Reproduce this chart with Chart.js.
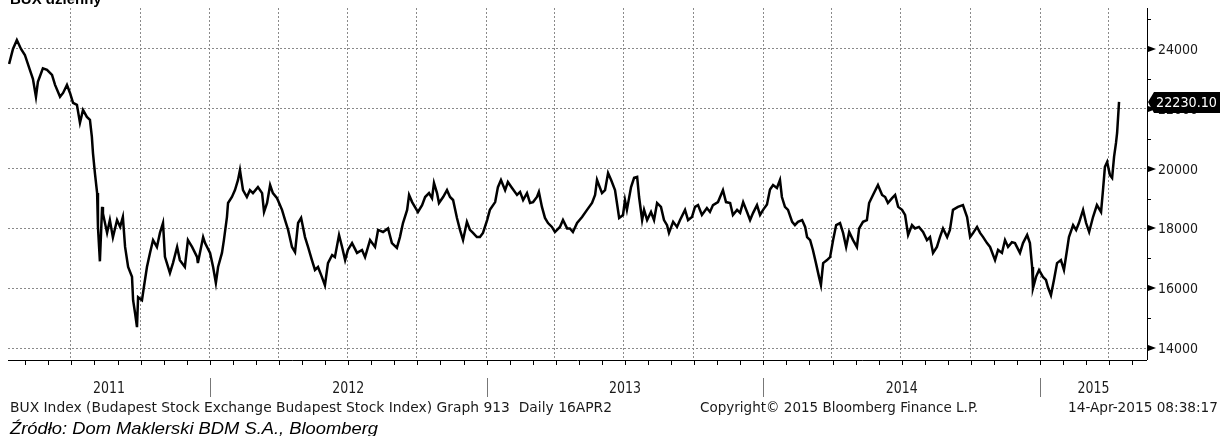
<!DOCTYPE html>
<html>
<head>
<meta charset="utf-8">
<script src="https://cdn.jsdelivr.net/npm/chart.js@4.4.1/dist/chart.umd.min.js"></script>
<style>
  html, body { margin: 0; padding: 0; background: #fff; }
  #wrap { width: 1223px; height: 436px; }
</style>
</head>
<body>
<div id="wrap"><canvas id="buxChart" width="1223" height="436"></canvas></div>
<script>
// time as decimal years, index values
const dates = [
  2011.275, 2011.289, 2011.303, 2011.318, 2011.332, 2011.350, 2011.361, 2011.372, 2011.379, 2011.397,
  2011.412, 2011.430, 2011.441, 2011.459, 2011.470, 2011.484, 2011.495, 2011.506, 2011.520, 2011.531,
  2011.542, 2011.556, 2011.567, 2011.574, 2011.578, 2011.585, 2011.593, 2011.596, 2011.603, 2011.611,
  2011.614, 2011.629, 2011.639, 2011.650, 2011.665, 2011.676, 2011.686, 2011.694, 2011.705, 2011.719,
  2011.723, 2011.730, 2011.737, 2011.741, 2011.755, 2011.762, 2011.773, 2011.784, 2011.795, 2011.809,
  2011.820, 2011.831, 2011.838, 2011.856, 2011.867, 2011.882, 2011.892, 2011.910, 2011.921, 2011.936,
  2011.954, 2011.957, 2011.976, 2011.983, 2012.001, 2012.012, 2012.022, 2012.030, 2012.044, 2012.051,
  2012.062, 2012.066, 2012.080, 2012.091, 2012.102, 2012.109, 2012.120, 2012.134, 2012.145, 2012.156,
  2012.174, 2012.189, 2012.196, 2012.207, 2012.218, 2012.228, 2012.243, 2012.261, 2012.272, 2012.283,
  2012.297, 2012.308, 2012.319, 2012.330, 2012.344, 2012.355, 2012.369, 2012.380, 2012.391, 2012.405,
  2012.416, 2012.427, 2012.442, 2012.452, 2012.467, 2012.478, 2012.489, 2012.499, 2012.514, 2012.532,
  2012.550, 2012.561, 2012.579, 2012.597, 2012.608, 2012.626, 2012.644, 2012.658, 2012.676, 2012.687,
  2012.698, 2012.713, 2012.720, 2012.731, 2012.741, 2012.752, 2012.767, 2012.778, 2012.792, 2012.803,
  2012.810, 2012.821, 2012.828, 2012.843, 2012.857, 2012.868, 2012.879, 2012.893, 2012.904, 2012.915,
  2012.929, 2012.940, 2012.951, 2012.965, 2012.976, 2012.987, 2013.002, 2013.012, 2013.031, 2013.041,
  2013.052, 2013.067, 2013.077, 2013.092, 2013.110, 2013.121, 2013.132, 2013.146, 2013.157, 2013.168,
  2013.182, 2013.189, 2013.200, 2013.211, 2013.222, 2013.236, 2013.247, 2013.265, 2013.276, 2013.291,
  2013.301, 2013.312, 2013.327, 2013.345, 2013.363, 2013.381, 2013.392, 2013.399, 2013.417, 2013.428,
  2013.439, 2013.450, 2013.464, 2013.471, 2013.479, 2013.493, 2013.500, 2013.507, 2013.522, 2013.533,
  2013.544, 2013.551, 2013.562, 2013.569, 2013.580, 2013.594, 2013.605, 2013.616, 2013.630, 2013.641,
  2013.652, 2013.659, 2013.674, 2013.688, 2013.699, 2013.717, 2013.728, 2013.742, 2013.753, 2013.764,
  2013.778, 2013.796, 2013.807, 2013.818, 2013.836, 2013.854, 2013.865, 2013.880, 2013.890, 2013.905,
  2013.916, 2013.927, 2013.941, 2013.952, 2013.963, 2013.977, 2013.988, 2013.999, 2014.013, 2014.024,
  2014.035, 2014.049, 2014.060, 2014.067, 2014.078, 2014.089, 2014.104, 2014.114, 2014.125, 2014.140,
  2014.151, 2014.158, 2014.169, 2014.179, 2014.190, 2014.201, 2014.208, 2014.216, 2014.230, 2014.241,
  2014.252, 2014.263, 2014.277, 2014.288, 2014.299, 2014.310, 2014.324, 2014.338, 2014.346, 2014.360,
  2014.374, 2014.382, 2014.396, 2014.414, 2014.429, 2014.440, 2014.450, 2014.465, 2014.476, 2014.487,
  2014.501, 2014.512, 2014.523, 2014.537, 2014.548, 2014.562, 2014.577, 2014.591, 2014.602, 2014.613,
  2014.627, 2014.638, 2014.649, 2014.664, 2014.674, 2014.685, 2014.703, 2014.721, 2014.736, 2014.747,
  2014.758, 2014.772, 2014.783, 2014.794, 2014.808, 2014.819, 2014.837, 2014.848, 2014.862, 2014.873,
  2014.884, 2014.898, 2014.909, 2014.927, 2014.938, 2014.953, 2014.963, 2014.971, 2014.974, 2014.985,
  2014.996, 2015.010, 2015.021, 2015.028, 2015.039, 2015.050, 2015.061, 2015.075, 2015.086, 2015.097,
  2015.104, 2015.119, 2015.130, 2015.140, 2015.155, 2015.166, 2015.177, 2015.191, 2015.205, 2015.220,
  2015.227, 2015.234, 2015.242, 2015.252, 2015.260, 2015.267, 2015.274, 2015.278, 2015.285
]

const closes = [
  23500, 24000, 24300, 24000, 23800, 23300, 23000, 22400, 22900, 23350,
  23300, 23130, 22800, 22400, 22530, 22800, 22530, 22200, 22130, 21530,
  21960, 21730, 21630, 21060, 20520, 19850, 19180, 18050, 16900, 18720,
  18500, 17850, 18280, 17700, 18280, 18050, 18380, 17380, 16710, 16380,
  15600, 15170, 14700, 15700, 15600, 16040, 16710, 17180, 17610, 17380,
  17850, 18180, 17050, 16510, 16840, 17380, 16940, 16710, 17610, 17380,
  17050, 16840, 17710, 17510, 17180, 16710, 16180, 16710, 17180, 17610,
  18380, 18850, 19050, 19280, 19620, 19950, 19280, 19050, 19280, 19180,
  19380, 19180, 18550, 18850, 19450, 19180, 19010, 18620, 18280, 17950,
  17380, 17210, 18180, 18350, 17710, 17380, 16940, 16610, 16710, 16380,
  16100, 16840, 17110, 17040, 17780, 17380, 16940, 17280, 17510, 17180,
  17280, 17040, 17610, 17380, 17950, 17880, 18000, 17510, 17350, 17710,
  18180, 18620, 19120, 18880, 18720, 18550, 18780, 19050, 19180, 19010,
  19520, 19180, 18850, 19050, 19280, 19050, 18950, 18350, 17950, 17610,
  18220, 17950, 17850, 17710, 17710, 17850, 18280, 18620, 18880, 19380,
  19620, 19280, 19550, 19350, 19120, 19220, 18950, 19180, 18850, 18880,
  19050, 19220, 18720, 18350, 18180, 18050, 17880, 18050, 18280, 18000,
  18000, 17880, 18180, 18380, 18620, 18850, 19120, 19620, 19180, 19280,
  19850, 19620, 19280, 18850, 18350, 18450, 18950, 18620, 19380, 19690,
  19720, 19050, 18280, 18620, 18280, 18550, 18280, 18850, 18720, 18280,
  18110, 17850, 18220, 18050, 18280, 18620, 18280, 18380, 18720, 18780,
  18450, 18680, 18550, 18780, 18880, 19280, 18880, 18850, 18450, 18620,
  18520, 18880, 18550, 18280, 18520, 18780, 18450, 18620, 18800, 19300,
  19450, 19350, 19620, 19050, 18720, 18620, 18220, 18110, 18220, 18280,
  18050, 17710, 17610, 17280, 16840, 16380, 16110, 16840, 16940, 17040,
  17610, 18110, 18180, 17850, 17380, 17880, 17610, 17380, 18000, 18220,
  18280, 18850, 19120, 19450, 19120, 19050, 18850, 19010, 19120, 18720,
  18620, 18450, 17780, 18110, 18000, 18050, 17880, 17610, 17710, 17180,
  17380, 17710, 18000, 17710, 17950, 18620, 18720, 18780, 18380, 17710,
  17850, 18050, 17850, 17710, 17510, 17380, 16940, 17280, 17180, 17610,
  17380, 17540, 17510, 17180, 17510, 17780, 17510, 16710, 16000, 16380,
  16610, 16380, 16280, 16040, 15770, 16280, 16840, 16940, 16610, 17280,
  17710, 18110, 17950, 18180, 18620, 18180, 17880, 18380, 18780, 18550,
  19280, 20060, 20220, 19790, 19690, 20390, 20860, 21190, 22230
]

const yearLabels = ['2011', '2012', '2013', '2014', '2015']
const yTicks = [14000, 16000, 18000, 20000, 22000, 24000]
const yMinorTicks = [14000, 15000, 16000, 17000, 18000, 19000, 20000, 21000, 22000, 23000, 24000, 25000]
const lastPrice = '22230.10'

const titleText = 'BUX dzienny'
const footerLeft = 'BUX Index (Budapest Stock Exchange Budapest Stock Index) Graph 913  Daily 16APR2'
const footerMid = 'Copyright\u00a9 2015 Bloomberg Finance L.P.'
const footerRight = '14-Apr-2015 08:38:17'
const sourceText = 'Źródło: Dom Maklerski BDM S.A., Bloomberg'

const xMin = 2011.271
const xMax = 2015.386

// quarter grid lines (Jan, Apr, Jul, Oct)
const quarterTicks = []
yearLabels.forEach(y => {
  [0, 0.247, 0.496, 0.748].forEach(q => {
    const v = Number(y) + q
    if (v > xMin && v < xMax) quarterTicks.push(v)
  })
})

const uiFont = '"DejaVu Sans Condensed", "DejaVu Sans", sans-serif'

// draw text squeezed/stretched to a given width
function fitText(ctx, text, x, y, width, align) {
  const natural = ctx.measureText(text).width
  const k = width / natural
  let start = x
  if (align === 'right') start = x - width
  if (align === 'center') start = x - width / 2
  ctx.save()
  ctx.textAlign = 'left'
  ctx.translate(start, y)
  ctx.scale(k, 1)
  ctx.fillText(text, 0, 0)
  ctx.restore()
}

const decorations = {
  id: 'bloombergDecor',
  afterDraw(chart) {
    const ctx = chart.ctx
    const area = chart.chartArea
    const xs = chart.scales.x
    const ys = chart.scales.y

    ctx.save()
    ctx.strokeStyle = '#000'
    ctx.lineWidth = 1

    // right axis line + ticks
    ctx.beginPath()
    ctx.moveTo(area.right + 0.5, area.top)
    ctx.lineTo(area.right + 0.5, area.bottom)
    ctx.stroke()

    yMinorTicks.forEach(v => {
      const py = Math.round(ys.getPixelForValue(v)) + 0.5
      if (py < area.top || py > area.bottom) return
      ctx.beginPath()
      ctx.moveTo(area.right, py)
      ctx.lineTo(area.right + 4, py)
      ctx.stroke()
    })

    ctx.font = '14px ' + uiFont
    ctx.textBaseline = 'middle'
    yTicks.forEach(v => {
      const py = Math.round(ys.getPixelForValue(v))
      ctx.fillStyle = '#000'
      ctx.beginPath()
      ctx.moveTo(area.right + 1, py - 3)
      ctx.lineTo(area.right + 9, py)
      ctx.lineTo(area.right + 1, py + 3)
      ctx.closePath()
      ctx.fill()
      ctx.fillStyle = '#1a1a1a'
      fitText(ctx, String(v), area.right + 11, py + 1, 40, 'left')
    })

    // last price box
    const lp = Math.round(ys.getPixelForValue(parseFloat(lastPrice)))
    ctx.fillStyle = '#000'
    ctx.beginPath()
    ctx.moveTo(area.right + 1, lp)
    ctx.lineTo(area.right + 7, lp - 10)
    ctx.lineTo(1220, lp - 10)
    ctx.lineTo(1220, lp + 11)
    ctx.lineTo(area.right + 7, lp + 11)
    ctx.closePath()
    ctx.fill()
    ctx.fillStyle = '#fff'
    ctx.font = '14px ' + uiFont
    fitText(ctx, lastPrice, area.right + 9, lp + 1, 61, 'left')

    // bottom axis line + monthly ticks
    ctx.strokeStyle = '#000'
    ctx.beginPath()
    ctx.moveTo(area.left, area.bottom + 0.5)
    ctx.lineTo(area.right, area.bottom + 0.5)
    ctx.stroke()

    yearLabels.forEach(y => {
      for (let m = 0; m < 12; m++) {
        const v = Number(y) + m / 12
        if (v <= xMin || v >= xMax) continue
        const px = Math.round(xs.getPixelForValue(v)) + 0.5
        ctx.beginPath()
        ctx.moveTo(px, area.bottom)
        ctx.lineTo(px, area.bottom + 5)
        ctx.stroke()
      }
    })

    // year separators and labels
    ctx.font = '15px ' + uiFont
    ctx.fillStyle = '#1a1a1a'
    ctx.strokeStyle = '#777'
    yearLabels.forEach(y => {
      const start = Number(y)
      const a = Math.max(area.left, xs.getPixelForValue(start))
      const b = Math.min(area.right, xs.getPixelForValue(start + 1))
      if (start > xMin) {
        const px = Math.round(xs.getPixelForValue(start)) + 0.5
        ctx.beginPath()
        ctx.moveTo(px, 378)
        ctx.lineTo(px, 397)
        ctx.stroke()
      }
      fitText(ctx, y, (a + b) / 2, 389, 32, 'center')
    })

    // footer
    ctx.font = '14px ' + uiFont
    fitText(ctx, footerLeft, 10, 408, 602, 'left')
    fitText(ctx, footerMid, 700, 408, 278, 'left')
    fitText(ctx, footerRight, 1218, 408, 150, 'right')

    // source and title
    ctx.fillStyle = '#000'
    ctx.textBaseline = 'alphabetic'
    ctx.font = 'italic 17px "Liberation Sans", Arial, sans-serif'
    fitText(ctx, sourceText, 10, 434, 368, 'left')
    ctx.font = 'bold 15px "Liberation Sans", Arial, sans-serif'
    ctx.textAlign = 'left'
    ctx.fillText(titleText, 10, 4)

    ctx.restore()
  }
}

new Chart(document.getElementById('buxChart'), {
  type: 'line',
  data: {
    datasets: [{
      label: 'BUX',
      data: dates.map((d, i) => ({ x: d, y: closes[i] })),
      borderColor: '#000',
      borderWidth: 2.5,
      pointRadius: 0,
      tension: 0,
      fill: false
    }]
  },
  options: {
    responsive: false,
    animation: false,
    devicePixelRatio: 1,
    layout: {
      padding: { left: 8, top: 8, right: 76, bottom: 76 }
    },
    plugins: {
      legend: { display: false },
      tooltip: { enabled: false }
    },
    scales: {
      x: {
        type: 'linear',
        min: xMin,
        max: xMax,
        afterBuildTicks: scale => { scale.ticks = quarterTicks.map(v => ({ value: v })) },
        ticks: { display: false },
        grid: { color: '#8a8a8a', lineWidth: 1, drawTicks: false },
        border: { display: false, dash: [2, 2] }
      },
      y: {
        type: 'linear',
        position: 'right',
        min: 13600,
        max: 25370,
        afterBuildTicks: scale => { scale.ticks = yTicks.map(v => ({ value: v })) },
        ticks: { display: false },
        grid: { color: '#8a8a8a', lineWidth: 1, drawTicks: false },
        border: { display: false, dash: [2, 2] }
      }
    }
  },
  plugins: [decorations]
})
</script>
</body>
</html>
